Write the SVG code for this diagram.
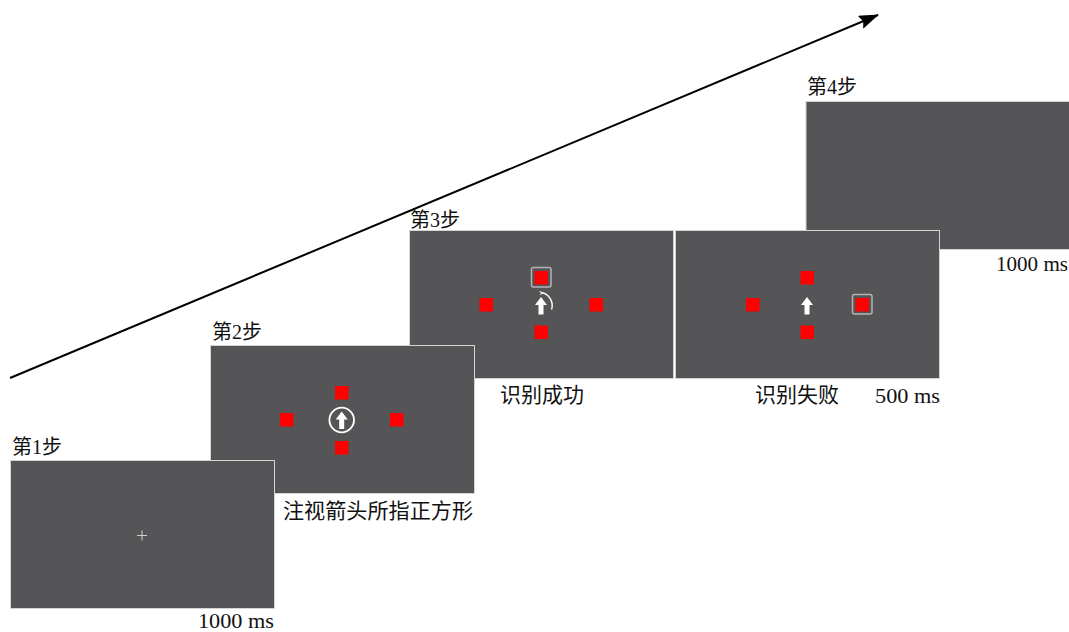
<svg xmlns="http://www.w3.org/2000/svg" width="1069" height="632" viewBox="0 0 1069 632">
<style>
.panel{fill:#555557;stroke:#d4d4d4;stroke-width:1}
.sq{fill:#ff0000}
.hl{fill:none;stroke:#b4b4b4;stroke-width:1.5}
.arr{fill:#ffffff}
.lbl{font-family:"Liberation Serif","Noto Sans CJK SC",serif;font-size:20px;fill:#111}
.cap{font-family:"Liberation Serif","Noto Sans CJK SC",serif;font-size:21px;fill:#111}
.ms{font-family:"Liberation Serif",serif;font-size:21px;fill:#111}
</style>
<defs>
<marker id="bighead" viewBox="0 0 20 14" refX="19" refY="7" markerWidth="20" markerHeight="14" markerUnits="userSpaceOnUse" orient="auto">
<path d="M0,0 L20,7 L0,14 L3,7 Z" fill="#000"/>
</marker>
<path id="uparrow" d="M0,0 L6,8 L2.5,8 L2.5,17.5 L-2.5,17.5 L-2.5,8 L-6,8 Z"/>
</defs>
<rect width="1069" height="632" fill="#ffffff"/>
<g id="connectors">
<line x1="10" y1="378" x2="878" y2="15" stroke="#000" stroke-width="2" marker-end="url(#bighead)"/>
</g>
<g id="step4">
<rect class="panel" x="806" y="101.5" width="264" height="148"/>
<text class="lbl" x="807" y="94">第4步</text>
<text class="ms" x="996" y="271" textLength="72" lengthAdjust="spacingAndGlyphs">1000 ms</text>
</g>
<g id="step3b">
<rect class="panel" x="675.5" y="230.5" width="264" height="148"/>
<rect class="sq" x="800.5" y="271" width="13.5" height="13.5"/>
<rect class="sq" x="746" y="298" width="13.5" height="13.5"/>
<rect class="sq" x="855.5" y="298" width="13.5" height="13.5"/>
<rect class="hl" x="852.5" y="294.5" width="19.5" height="19.5" rx="2"/>
<rect class="sq" x="800.5" y="325.5" width="13.5" height="13.5"/>
<use href="#uparrow" class="arr" x="807" y="297"/>
<text class="cap" x="755" y="402">识别失败</text>
<text class="ms" x="875" y="403" textLength="65" lengthAdjust="spacingAndGlyphs">500 ms</text>
</g>
<g id="step3">
<rect class="panel" x="409.5" y="230.5" width="264" height="148"/>
<text class="lbl" x="410" y="227">第3步</text>
<rect class="sq" x="534.5" y="271" width="13.5" height="13.5"/>
<rect class="hl" x="531.5" y="267.5" width="19.5" height="19.5" rx="2"/>
<rect class="sq" x="479.5" y="298" width="13.5" height="13.5"/>
<rect class="sq" x="589.5" y="298" width="13.5" height="13.5"/>
<rect class="sq" x="534.5" y="325.5" width="13.5" height="13.5"/>
<use href="#uparrow" class="arr" x="541" y="297"/>
<path d="M541,292.5 A13,13 0 0 1 551.5,309.5" fill="none" stroke="#ffffff" stroke-width="1.4"/>
<path d="M539.5,291.5 L542.5,292.7 L540,294.6" fill="none" stroke="#ffffff" stroke-width="1"/>
<text class="cap" x="500" y="402">识别成功</text>
</g>
<g id="step2">
<rect class="panel" x="210.5" y="345.5" width="264" height="148"/>
<text class="lbl" x="212" y="339">第2步</text>
<rect class="sq" x="335" y="386" width="13.5" height="13.5"/>
<rect class="sq" x="280" y="413" width="13.5" height="13.5"/>
<rect class="sq" x="390" y="413" width="13.5" height="13.5"/>
<rect class="sq" x="335" y="441" width="13.5" height="13.5"/>
<circle cx="341.7" cy="420" r="12.3" fill="none" stroke="#ffffff" stroke-width="1.8"/>
<use href="#uparrow" class="arr" x="341.7" y="411.5"/>
<text class="cap" x="283" y="518" textLength="190" lengthAdjust="spacingAndGlyphs">注视箭头所指正方形</text>
</g>
<g id="step1">
<rect class="panel" x="10.5" y="460.5" width="264" height="148"/>
<text class="lbl" x="12" y="454">第1步</text>
<path d="M137,535.5 H147 M142,530.5 V540.5" stroke="#d0d0d0" stroke-width="1"/>
<text class="ms" x="198" y="628" textLength="76" lengthAdjust="spacingAndGlyphs">1000 ms</text>
</g>
</svg>
